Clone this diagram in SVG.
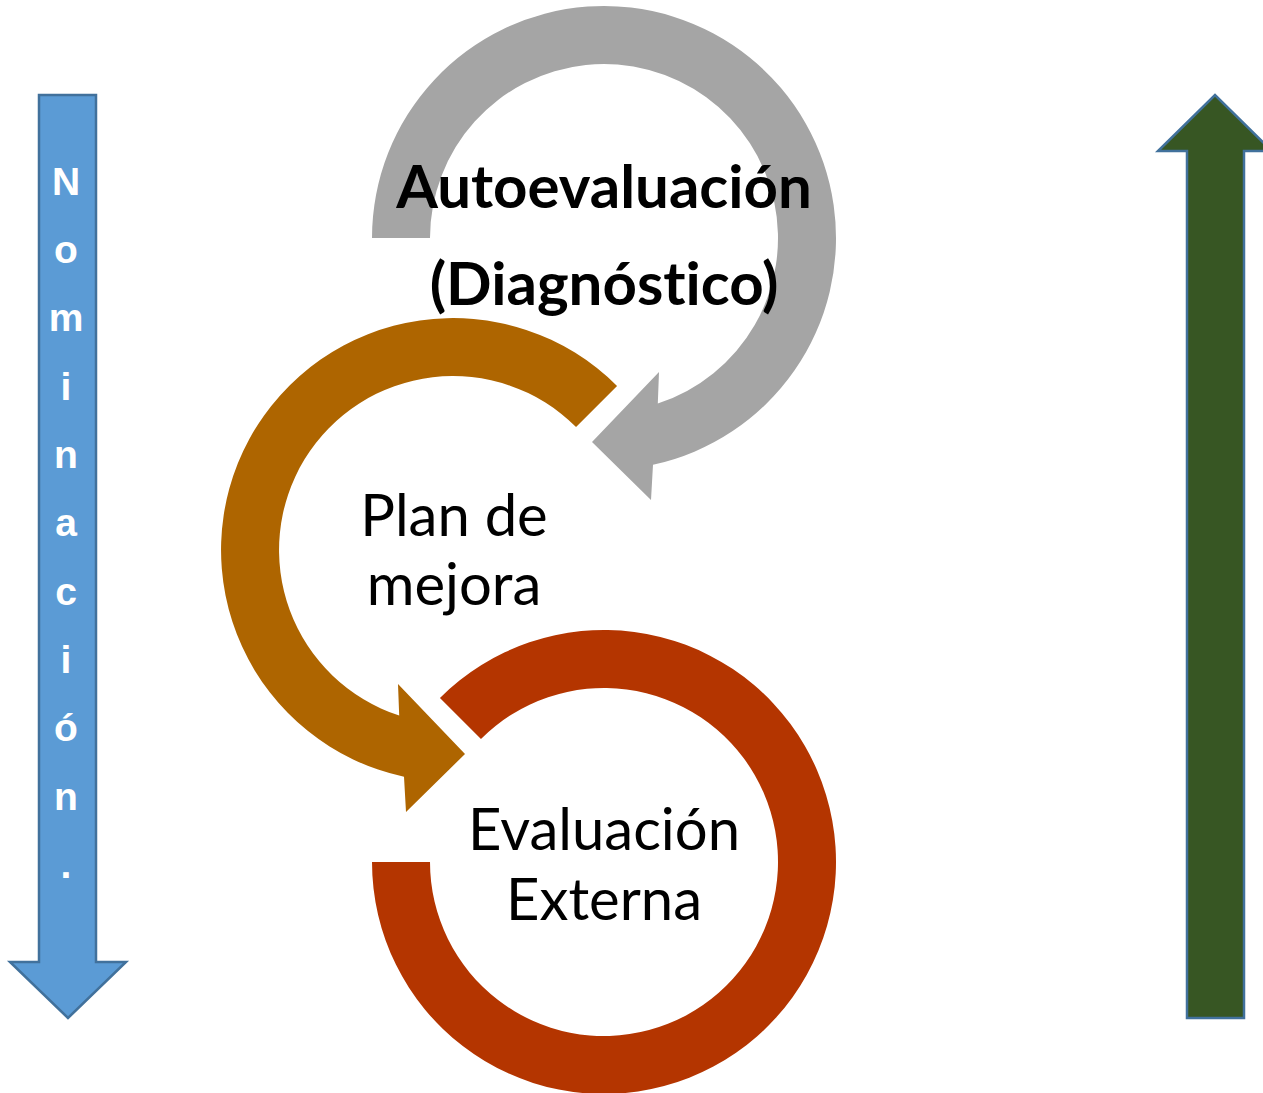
<svg xmlns="http://www.w3.org/2000/svg" width="1263" height="1093" viewBox="0 0 1263 1093">
<style>
.bold{font-family:Lato,"Liberation Sans",sans-serif;font-weight:bold;font-size:60px;fill:#000;text-anchor:middle;font-variant-ligatures:none}
.reg{font-family:Lato,"Liberation Sans",sans-serif;font-size:58px;fill:#000;text-anchor:middle;font-variant-ligatures:none}
.vert{font-family:"Liberation Sans",Arial,sans-serif;font-weight:bold;font-size:39px;fill:#fff;text-anchor:middle}
.bar{stroke:#41719C;stroke-width:2.5}
</style>
<rect width="1263" height="1093" fill="#fff"/>
<g id="nominacion">
<path class="bar" fill="#5B9BD5" d="M39 95 H96 V962 H126 L68 1018 L10 962 H39 Z"/>
<text class="vert" x="66" y="195">N<tspan x="66" y="263">o</tspan><tspan x="66" y="331">m</tspan><tspan x="66" y="400">i</tspan><tspan x="66" y="468">n</tspan><tspan x="66" y="536">a</tspan><tspan x="66" y="605">c</tspan><tspan x="66" y="673">i</tspan><tspan x="66" y="741">ó</tspan><tspan x="66" y="810">n</tspan><tspan x="66" y="878">.</tspan></text>
</g>
<g id="green-arrow">
<path class="bar" fill="#375623" d="M1187 1018 V151 H1158 L1215 95 L1272 151 H1244 V1018 Z"/>
</g>
<g id="connectors">
<path id="gray-arc" fill="#A5A5A5" d="M372 238 A232 232 0 1 1 653 464.8 L651 500 L592 442 L659 372 L657.8 403.5 A174 174 0 1 0 430 238 Z"/>
<path id="orange-arc" fill="#AE6500" d="M617.05 385.95 A232 232 0 1 0 404 776.8 L406 812 L465 754 L398 684 L399.2 715.5 A174 174 0 1 1 576.04 426.96 Z"/>
<path id="red-arc" fill="#B43500" d="M439.95 697.95 A232 232 0 1 1 372 862 L430 862 A174 174 0 1 0 480.96 738.96 Z"/>
</g>
<g id="autoevaluacion">
<text class="bold" x="604" y="208">Autoevaluación</text>
<text class="bold" x="604" y="305">(Diagnóstico)</text>
</g>
<g id="plan-de-mejora">
<text class="reg" x="454" y="536">Plan de</text>
<text class="reg" x="454" y="605">mejora</text>
</g>
<g id="evaluacion-externa">
<text class="reg" x="604" y="850">Evaluación</text>
<text class="reg" x="604" y="920">Externa</text>
</g>
</svg>
